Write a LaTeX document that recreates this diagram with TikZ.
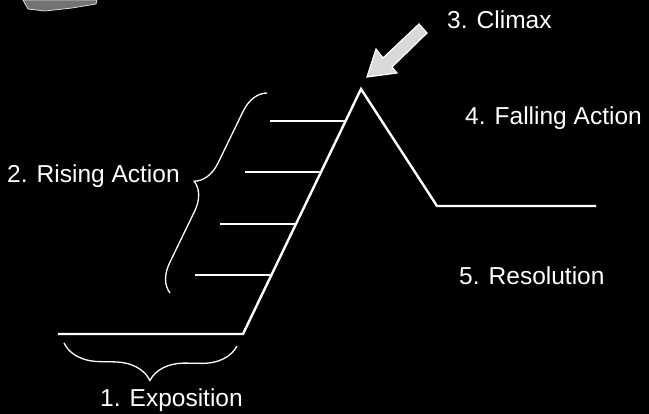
\documentclass[tikz,border=0pt]{standalone}
\usepackage{fontspec}
\setmainfont{Liberation Sans}
\usepackage{xcolor}
\usepackage{tikz}
\usetikzlibrary{calc,decorations.pathreplacing}
\definecolor{ink}{HTML}{FFFFFF}
\definecolor{board}{HTML}{000000}
\tikzset{
  plotline/.style={draw=ink,line width=2.4pt,line join=miter},
  rung/.style={draw=ink,line width=1.8pt},
  bracket/.style={draw=ink,line width=1.3pt,decorate,decoration={brace,amplitude=#1}},
  stage/.style={text=ink,font=\fontsize{24.5}{29}\selectfont,inner sep=0pt,anchor=base west},
}

\begin{document}
\begin{tikzpicture}[x=1pt,y=-1pt]
  \fill[board] (0,0) rectangle (649,414);
  \useasboundingbox (0,0) rectangle (649,414);

  % scanned smudge, top left
  \filldraw[fill=ink!45!board,draw=ink!85!board,line width=0.8pt]
    (23,0) -- (97,0) -- (96,4) -- (72,8) -- (45,11) -- (28,9) -- cycle;

  % the story line
  \coordinate (start) at (58,334);
  \coordinate (climb) at (243,334);
  \coordinate (peak) at (361,89);
  \coordinate (fall) at (437,206);
  \coordinate (end) at (596,206);
  \draw[plotline] (start) -- (climb) -- (peak) -- (fall) -- (end);

  \foreach \t in {0.24,0.45,0.66,0.87}
    \draw[rung] ($(climb)!\t!(peak)$) -- ++(-76,0);

  % braces
  \draw[bracket=36] (237,346) -- (64,343);
  \draw[bracket=27] (170,293) -- (267,93);

  % arrow at the climax
  \filldraw[fill=ink!85!board,draw=ink,line width=1.2pt,line join=miter]
    (367,77) -- (376,49) -- (383,58) -- (419,24) -- (427,33) -- (392,67) -- (397,73) -- cycle;

  % labels
  \node[stage] (climax) at (447,29) {3. Climax};
  \node[stage] (falling) at (465,125) {4. Falling Action};
  \node[stage] (rising) at (7,183) {2. Rising Action};
  \node[stage] (resolution) at (459,285) {5. Resolution};
  \node[stage] (exposition) at (100,407) {1. Exposition};
\end{tikzpicture}
\end{document}
